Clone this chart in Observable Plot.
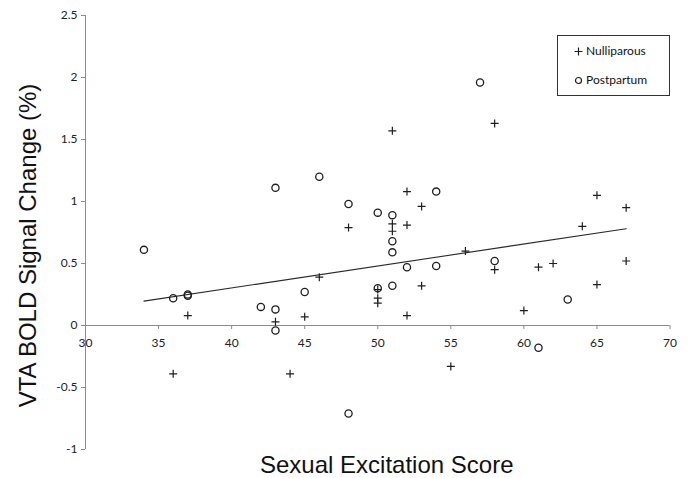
<!DOCTYPE html>
<html>
<head>
<meta charset="utf-8">
<script src="https://cdn.jsdelivr.net/npm/d3@7"></script>
<script src="https://cdn.jsdelivr.net/npm/@observablehq/plot@0.6"></script>
<style>
  body { margin: 0; background: #fff; }
  #wrap { position: relative; width: 692px; height: 478px; overflow: hidden; }
  #legend {
    position: absolute; left: 557px; top: 35px; width: 111px; height: 59px;
    border: 1px solid #333; background: #fff;
    font-family: Lato, "Open Sans", sans-serif; font-size: 12px; color: #111;
  }
  #legend .item { position: absolute; left: 0; height: 16px; line-height: 16px; white-space: nowrap; }
  #legend svg { position: absolute; left: 16px; top: 4px; }
  #legend span { position: absolute; left: 28px; top: 0; }
</style>
</head>
<body>
<div id="wrap">
  <div id="chart"></div>
  <div id="legend"></div>
</div>
<script>
// ---- data ----
const nulliparousX = [36, 37, 43, 44, 45, 46, 48, 50, 50, 50, 51, 51, 51, 52, 52, 52, 53, 53, 55, 56, 58, 58, 60, 61, 62, 64, 65, 65, 67, 67];
const nulliparousY = [-0.39, 0.08, 0.03, -0.39, 0.07, 0.39, 0.79, 0.29, 0.22, 0.18, 1.57, 0.82, 0.76, 1.08, 0.81, 0.08, 0.96, 0.32, -0.33, 0.60, 1.63, 0.45, 0.12, 0.47, 0.50, 0.80, 1.05, 0.33, 0.95, 0.52];
const postpartumX = [34, 36, 37, 37, 42, 43, 43, 43, 45, 46, 48, 48, 50, 50, 51, 51, 51, 51, 52, 54, 54, 57, 58, 61, 63];
const postpartumY = [0.61, 0.22, 0.25, 0.24, 0.15, 1.11, 0.13, -0.04, 0.27, 1.20, 0.98, -0.71, 0.91, 0.30, 0.89, 0.68, 0.59, 0.32, 0.47, 1.08, 0.48, 1.96, 0.52, -0.18, 0.21];
const groups = ["Nulliparous", "Postpartum"];
const xTicks = [30, 35, 40, 45, 50, 55, 60, 65, 70];
const yTicks = [-1, -0.5, 0, 0.5, 1, 1.5, 2, 2.5];
const xTitle = "Sexual Excitation Score";
const yTitle = "VTA BOLD Signal Change (%)";

// ---- build tables ----
const nulli = nulliparousX.map((x, i) => ({x, y: nulliparousY[i], group: groups[0]}));
const post = postpartumX.map((x, i) => ({x, y: postpartumY[i], group: groups[1]}));
const all = nulli.concat(post);

const xDomain = [xTicks[0], xTicks[xTicks.length - 1]];
const yDomain = [yTicks[0], yTicks[yTicks.length - 1]];
const axisColor = "#8c8c8c";
const ink = "#1e1e1e";
const tickFont = "Lato, 'Open Sans', sans-serif";
const titleFont = "'Liberation Sans', Arial, sans-serif";

const chart = Plot.plot({
  width: 692,
  height: 478,
  marginLeft: 85,
  marginRight: 22.5,
  marginTop: 15,
  marginBottom: 29,
  x: {domain: xDomain, axis: null},
  y: {domain: yDomain, axis: null},
  style: {background: "#fff", overflow: "visible"},
  marks: [
    // y axis line and ticks
    Plot.ruleX([xDomain[0]], {y1: yDomain[0], y2: yDomain[1], stroke: axisColor, strokeWidth: 1}),
    Plot.ruleY(yTicks, {y: d => d, x1: xDomain[0], x2: xDomain[0], insetLeft: -4, stroke: axisColor}),
    Plot.text(yTicks, {x: xDomain[0], y: d => d, dx: -8, textAnchor: "end", text: d => String(d),
      fontSize: 12, fontFamily: tickFont, fill: "#222"}),
    // x axis line (at y = 0) and ticks
    Plot.ruleY([0], {x1: xDomain[0], x2: xDomain[1], stroke: axisColor, strokeWidth: 1}),
    Plot.ruleX(xTicks, {x: d => d, y1: 0, y2: 0, insetBottom: -4, stroke: axisColor}),
    Plot.text(xTicks, {x: d => d, y: 0, dy: 18, text: d => String(d),
      fontSize: 12, fontFamily: tickFont, fill: "#222"}),
    // trend line
    Plot.linearRegressionY(all, {x: "x", y: "y", ci: 0, stroke: "#2a2a2a", strokeWidth: 1.1}),
    // points
    Plot.dot(nulli, {x: "x", y: "y", symbol: "plus", r: 2.7, stroke: ink, strokeWidth: 1.2}),
    Plot.dot(post, {x: "x", y: "y", symbol: "circle", r: 3.6, stroke: ink, fill: "none", strokeWidth: 1.3}),
    // axis titles
    Plot.text([xTitle], {frameAnchor: "bottom", text: d => d, dy: 16, dx: 9, lineAnchor: "middle", textAnchor: "middle",
      fontSize: 24, fontFamily: titleFont, fill: "#111"}),
    Plot.text([yTitle], {frameAnchor: "left", text: d => d, rotate: -90, dx: -57, dy: 13, lineAnchor: "middle", textAnchor: "middle",
      fontSize: 24, fontFamily: titleFont, fill: "#111"})
  ]
});
document.getElementById("chart").appendChild(chart);

// ---- legend (HTML overlay inside plot area) ----
const legend = document.getElementById("legend");
groups.forEach((g, i) => {
  const item = document.createElement("div");
  item.className = "item";
  item.style.top = (7 + i * 29) + "px";
  item.style.width = "100%";
  const sym = i === 0
    ? `<svg width="9" height="9"><path d="M0.5,4.5H8.5M4.5,0.5V8.5" stroke="${ink}" stroke-width="1.2" fill="none"/></svg>`
    : `<svg width="9" height="9"><circle cx="4.5" cy="4.5" r="3" stroke="${ink}" stroke-width="1.2" fill="none"/></svg>`;
  item.innerHTML = sym + `<span>${g}</span>`;
  legend.appendChild(item);
});
</script>
</body>
</html>
